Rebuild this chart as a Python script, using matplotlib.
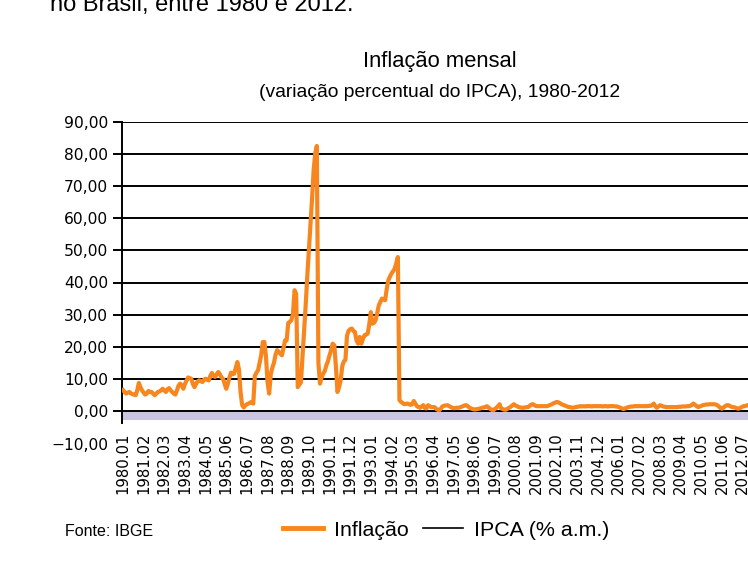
import matplotlib
matplotlib.use("Agg")
import matplotlib.pyplot as plt
from matplotlib.lines import Line2D

plt.rcParams['font.family'] = ['DejaVu Sans']

# IPCA monthly variation (%), Jan 1980 - Dec 2012
ipca_1980_1985 = [
    6.6, 6.0, 5.5, 5.8, 6.0, 5.6, 5.3, 5.2, 5.0, 6.5, 8.8, 7.5,
    6.5, 5.8, 5.2, 5.5, 6.3, 6.0, 6.0, 5.5, 5.0, 5.5, 6.0, 6.2,
    6.5, 7.0, 6.5, 6.0, 6.8, 7.2, 6.5, 6.0, 5.5, 5.2, 6.5, 8.0,
    8.6, 8.0, 7.0, 8.5, 9.5, 10.5, 10.3, 10.1, 8.5, 7.5, 8.5, 9.3,
    9.6, 9.4, 9.1, 9.8, 10.1, 9.8, 9.6, 11.0, 11.9, 11.0, 10.7, 11.5,
    12.2, 11.5, 10.5, 10.1, 8.5, 7.0, 8.5, 10.5, 12.0, 11.5, 11.7, 13.5,
]
ipca_1986_1989 = [
    15.3, 13.0, 6.0, 2.0, 1.2, 1.8, 2.2, 2.4, 2.7, 2.9, 2.4, 11.0,
    12.0, 12.7, 15.0, 17.5, 21.5, 21.5, 17.0, 9.0, 5.5, 11.5, 13.5, 15.0,
    17.5, 19.0, 18.5, 17.9, 17.4, 19.5, 22.0, 22.0, 27.4, 27.8, 28.3, 30.3,
    37.6, 36.5, 7.5, 8.3, 9.0, 17.0, 25.0, 33.0, 42.0, 50.0, 58.0, 66.0,
]
ipca_1990_1994 = [
    75.0, 80.0, 82.4, 15.0, 8.6, 10.5, 11.7, 12.5, 14.3, 15.5, 17.4, 19.0,
    21.0, 20.5, 14.0, 6.0, 7.5, 9.6, 14.0, 15.5, 16.0, 23.5, 25.0, 25.5,
    25.7, 25.0, 24.6, 22.0, 21.0, 23.1, 21.0, 22.5, 23.6, 23.8, 24.1, 27.0,
    30.8, 27.2, 27.5, 28.3, 30.5, 32.9, 34.0, 35.0, 34.8, 34.5, 38.0, 40.7,
    41.8, 42.8, 43.5, 44.3, 46.0, 47.9, 3.5, 2.9, 2.6, 2.2, 2.3, 2.4,
]
ipca_1995_2002 = [
    2.2, 2.0, 2.2, 3.2, 2.4, 1.6, 1.3, 1.1, 1.5, 1.9, 1.0, 0.9,
    1.9, 1.6, 1.3, 1.3, 1.3, 0.8, 0.5, 0.3, 0.8, 1.5, 1.7, 1.8,
    1.9, 1.7, 1.4, 1.1, 1.0, 1.0, 1.1, 1.1, 1.2, 1.4, 1.6, 1.8,
    1.9, 1.6, 1.1, 0.9, 0.7, 0.6, 0.6, 0.7, 0.8, 0.9, 1.1, 1.2,
    1.3, 1.6, 1.2, 0.8, 0.5, 0.3, 0.7, 1.1, 1.6, 2.2, 0.9, 0.7,
    0.5, 0.5, 0.8, 1.1, 1.4, 1.8, 2.2, 1.8, 1.6, 1.3, 1.2, 1.1,
    1.1, 1.2, 1.3, 1.3, 1.7, 2.1, 2.2, 1.9, 1.6, 1.6, 1.6, 1.6,
    1.6, 1.6, 1.6, 1.6, 1.8, 2.0, 2.2, 2.5, 2.7, 2.9, 2.8, 2.5,
]
ipca_2003_2012 = [
    2.2, 2.0, 1.8, 1.6, 1.4, 1.3, 1.2, 1.1, 1.2, 1.3, 1.4, 1.5,
    1.6, 1.5, 1.6, 1.5, 1.6, 1.6, 1.6, 1.5, 1.6, 1.6, 1.6, 1.6,
    1.6, 1.6, 1.5, 1.6, 1.6, 1.5, 1.6, 1.6, 1.6, 1.6, 1.5, 1.5,
    1.3, 1.1, 0.9, 0.7, 0.9, 1.1, 1.3, 1.4, 1.5, 1.5, 1.6, 1.6,
    1.6, 1.6, 1.6, 1.6, 1.6, 1.6, 1.6, 1.7, 1.7, 1.9, 2.4, 1.6,
    1.1, 1.5, 1.9, 1.7, 1.5, 1.4, 1.3, 1.3, 1.3, 1.3, 1.3, 1.3,
    1.3, 1.3, 1.4, 1.4, 1.5, 1.5, 1.5, 1.6, 1.6, 1.7, 2.0, 2.4,
    2.0, 1.6, 1.3, 1.5, 1.7, 1.9, 2.0, 2.1, 2.1, 2.2, 2.2, 2.2,
    2.2, 2.1, 1.9, 1.5, 1.0, 0.8, 1.2, 1.6, 1.9, 1.9, 1.6, 1.4,
    1.3, 1.2, 1.0, 0.8, 0.9, 1.2, 1.5, 1.6, 1.7, 1.9, 1.9, 2.0,
]

inflacao = ipca_1980_1985 + ipca_1986_1989 + ipca_1990_1994 + ipca_1995_2002 + ipca_2003_2012
months = [f"{1980 + i // 12}.{i % 12 + 1:02d}" for i in range(len(inflacao))]
yticks = [-10, 0, 10, 20, 30, 40, 50, 60, 70, 80, 90]

orange = '#f7861f'
lavender = '#c9c5e1'

W, H = 748, 567
fig = plt.figure(figsize=(W / 100, H / 100), dpi=100)
ax = fig.add_axes([122 / W, (H - 443.5) / H, 635 / W, 322 / H])

ax.axhspan(-2.6, 0, color=lavender, lw=0, zorder=1)
ax.plot(range(len(inflacao)), inflacao, color=orange, lw=3.0, zorder=3,
        solid_joinstyle='round')

ax.set_xlim(-0.6, 399)
ax.set_ylim(-10, 90)

ax.set_yticks(yticks)
ax.set_yticklabels([f"{v:.2f}".replace('.', ',').replace('-', '\u2212') for v in yticks])
ax.grid(axis='y', color='black', lw=1.4, zorder=2)
ax.get_ygridlines()[0].set_visible(False)
ax.yaxis.get_major_ticks()[0].tick1line.set_visible(False)
ax.tick_params(axis='y', length=6.5, width=1.4, pad=3.5, labelsize=11.2)
ax.set_axisbelow(False)

idx = list(range(0, len(inflacao), 13))
ax.set_xticks(idx)
ax.set_xticklabels([months[i] for i in idx], rotation=90)
ax.tick_params(axis='x', length=0, pad=-8.0, labelsize=10.7)

for s in ['top', 'right', 'bottom']:
    ax.spines[s].set_visible(False)
ax.spines['left'].set_linewidth(1.4)
ax.spines['left'].set_bounds(-3.7, 90)

fig.text(0.5 * (362 + 517) / W, 1 - 62 / H, "Inflação mensal", ha='center', va='center',
         fontsize=15.8, family='Liberation Sans')
fig.text(0.5 * (258 + 621) / W, 1 - 93 / H, "(variação percentual do IPCA), 1980-2012",
         ha='center', va='center', fontsize=13.9, family='Liberation Sans')
fig.text(50 / W, 1 - 11 / H, "no Brasil, entre 1980 e 2012.", ha='left', va='baseline',
         fontsize=17, family='Liberation Sans')
fig.text(65 / W, 1 - 531 / H, "Fonte: IBGE", ha='left', va='center',
         fontsize=11.5, family='Liberation Sans')

handles = [Line2D([], [], color=orange, lw=3.5), Line2D([], [], color='black', lw=1.2)]
fig.legend(handles, ["Inflação", "IPCA (% a.m.)"], loc='center left',
           bbox_to_anchor=(283 / W, 1 - 530 / H), ncol=2, frameon=False,
           borderpad=0, borderaxespad=0, handlelength=1.87, handletextpad=0.5,
           columnspacing=0.7, prop={'family': 'Liberation Sans', 'size': 15.4})

fig.savefig("out.png", dpi=100)
